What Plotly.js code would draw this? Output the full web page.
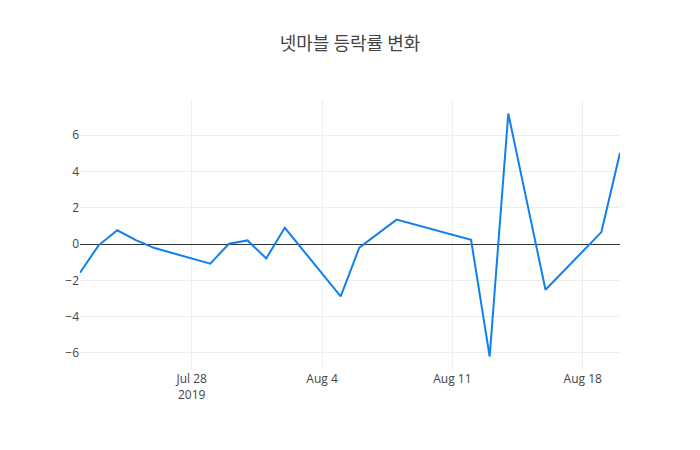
<!DOCTYPE html>
<html>
<head>
<meta charset="utf-8">
<script src="https://cdn.plot.ly/plotly-3.0.1.min.js"></script>
<style>
  html, body { margin: 0; padding: 0; background: #fff; }
  #chart { width: 700px; height: 450px; }
</style>
</head>
<body>
<div id="chart"></div>
<script>
// trading days and daily change (%)
const dates = [
    '2019-07-22', '2019-07-23', '2019-07-24', '2019-07-25', '2019-07-26',
    '2019-07-29', '2019-07-30', '2019-07-31', '2019-08-01', '2019-08-02',
    '2019-08-05', '2019-08-06', '2019-08-08', '2019-08-12', '2019-08-13',
    '2019-08-14', '2019-08-16', '2019-08-19', '2019-08-20'
];
const changes = [
    -1.58, -0.07, 0.76, 0.22, -0.22,
    -1.08, 0.02, 0.2, -0.79, 0.9,
    -2.89, -0.2, 1.35, 0.24, -6.2,
    7.2, -2.52, 0.66, 5.03
];

const chartTitle = '넷마블 등락률 변화';

const trace = {
    x: dates,
    y: changes,
    type: 'scatter',
    mode: 'lines',
    line: { color: '#127fee', width: 2 }
};

const layout = {
    width: 700,
    height: 450,
    title: {
        text: chartTitle,
        font: { family: '"Noto Sans CJK KR", "Open Sans", sans-serif', size: 18, color: '#444' }
    },
    font: { family: '"Open Sans", "Noto Sans CJK KR", sans-serif', size: 12, color: '#444' },
    paper_bgcolor: '#fff',
    plot_bgcolor: '#fff',
    margin: { t: 100, b: 80, l: 80, r: 80 },
    xaxis: {
        type: 'date',
        gridcolor: '#eee',
        zeroline: false
    },
    yaxis: {
        gridcolor: '#eee',
        zeroline: true,
        zerolinecolor: '#333',
        zerolinewidth: 1
    },
    showlegend: false
};

Plotly.newPlot('chart', [trace], layout, { displayModeBar: false });
</script>
</body>
</html>
